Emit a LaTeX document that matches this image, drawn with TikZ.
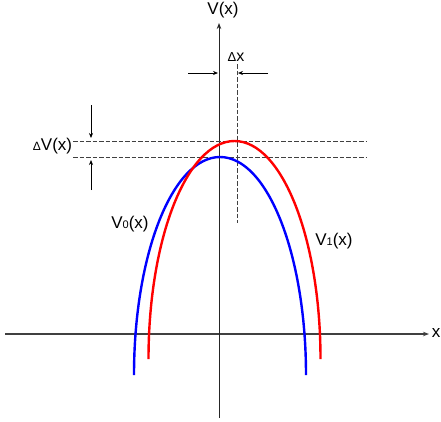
\documentclass[tikz,border=0pt]{standalone}
\usepackage{fontspec}
\setmainfont{Liberation Sans}
\usetikzlibrary{arrows.meta}
\begin{document}
\begin{tikzpicture}[x=1pt,y=-1pt,
  lbl/.style={inner sep=0pt, font=\fontsize{17}{17}\selectfont},
  axisline/.style={draw=black!75, line width=1.3pt},
  yaxisline/.style={draw=black!85, line width=0.9pt},
  guide/.style={draw=black!75, line width=0.9pt, dash pattern=on 4.5pt off 2pt},
  dimarrow/.style={draw=black, line width=0.7pt, -{Stealth[length=5pt,width=4pt]}},
  curve/.style={line width=2.4pt}]
\useasboundingbox (0,0) rectangle (441,421);
% axes
\coordinate (xs) at (5,334);
\coordinate (xe) at (429,334);
\coordinate (ys) at (219,418);
\coordinate (ye) at (219,23);
\draw[axisline, -{Stealth[length=6pt,width=4.5pt]}] (xs) -- (xe);
\draw[yaxisline, -{Stealth[length=6pt,width=4.5pt]}] (ys) -- (ye);
\node[lbl] (xl) at (436,333) {x};
\node[lbl] (yl) at (223,10) {V(x)};
% guides
\coordinate (h1s) at (73,141); \coordinate (h1e) at (366,141);
\coordinate (h2s) at (73,157); \coordinate (h2e) at (366,157);
\coordinate (vs) at (237,64); \coordinate (ve) at (237,223);
\draw[guide] (h1s) -- (h1e);
\draw[guide] (h2s) -- (h2e);
\draw[guide] (vs) -- (ve);
% curves
\draw[curve, blue] (306,375) arc[start angle=0, end angle=-180, x radius=86, y radius=218];
\draw[curve, red] (320.5,359) arc[start angle=0, end angle=-180, x radius=86, y radius=218];
% dimension arrows
\coordinate (a1s) at (91,105); \coordinate (a1e) at (91,138);
\coordinate (a2s) at (91,190); \coordinate (a2e) at (91,160);
\coordinate (b1s) at (188,73); \coordinate (b1e) at (218,73);
\coordinate (b2s) at (268,73); \coordinate (b2e) at (238,73);
\draw[dimarrow] (a1s) -- (a1e);
\draw[dimarrow] (a2s) -- (a2e);
\draw[dimarrow] (b1s) -- (b1e);
\draw[dimarrow] (b2s) -- (b2e);
% labels
\node[lbl] (dv) at (52.5,146) {{\fontsize{12}{12}\selectfont Δ}V(x)};
\node[lbl, font=\fontsize{16}{16}\selectfont] (dx) at (236,57) {{\fontsize{13}{13}\selectfont Δ}x};
\node[lbl] (v0) at (130,224) {V{\fontsize{11}{11}\selectfont\raisebox{-0.5pt}{0}}(x)};
\node[lbl] (v1) at (334,241) {V{\fontsize{11}{11}\selectfont\raisebox{-0.5pt}{1}}(x)};
\end{tikzpicture}
\end{document}
